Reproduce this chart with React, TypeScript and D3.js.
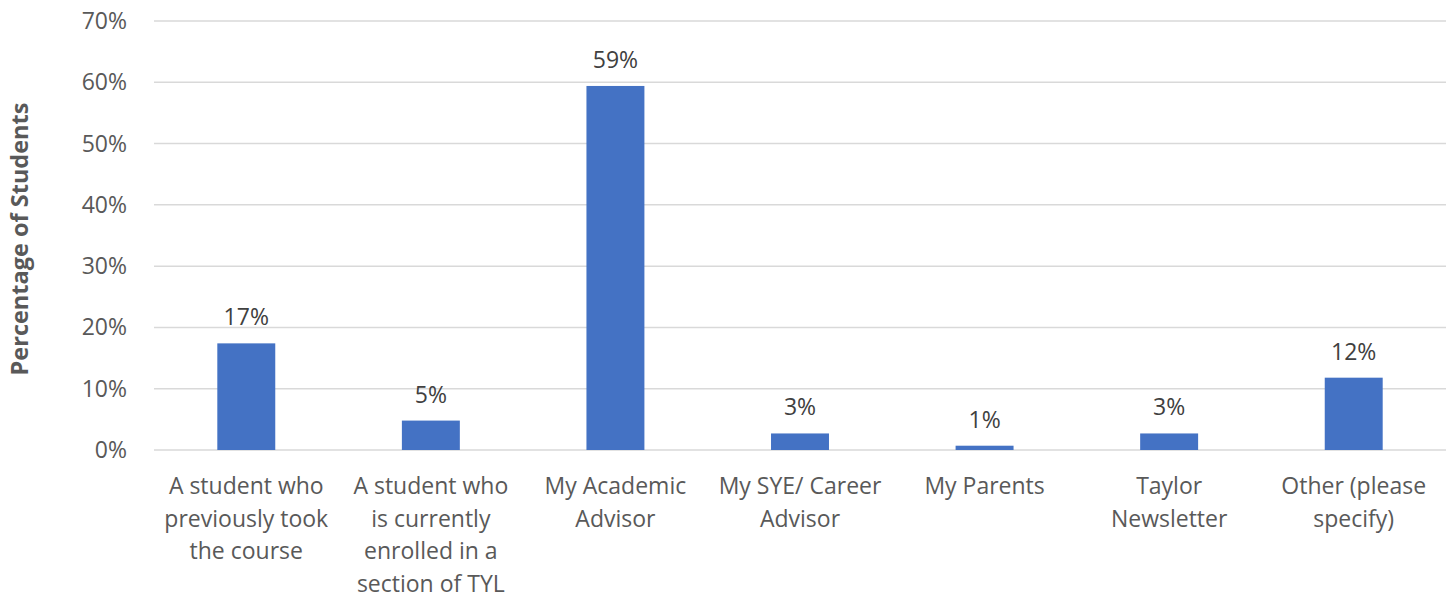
import React, { useEffect, useRef } from "react";
import * as d3 from "d3";

const categories = [
  "A student who\npreviously took\nthe course",
  "A student who\nis currently\nenrolled in a\nsection of TYL",
  "My Academic\nAdvisor",
  "My SYE/ Career\nAdvisor",
  "My Parents",
  "Taylor\nNewsletter",
  "Other (please\nspecify)",
];
const values = [17.4, 4.8, 59.4, 2.7, 0.7, 2.7, 11.8];
const valueLabels = ["17%", "5%", "59%", "3%", "1%", "3%", "12%"];
const yTicks = [0, 10, 20, 30, 40, 50, 60, 70];
const yTitle = "Percentage of Students";

const W = 1455;
const H = 601;
const FONT = "'Open Sans', sans-serif";
const FS = 23;

export default function App() {
  const ref = useRef<SVGSVGElement>(null);
  useEffect(() => {
    const svg = d3.select(ref.current);
    svg.selectAll("*").remove();
    const left = 154, right = 1446, top = 21, bottom = 450;
    const x = d3.scaleBand<string>().domain(categories).range([left, right]).paddingInner(0.686).paddingOuter(0.343);
    const y = d3.scaleLinear().domain([0, 70]).range([bottom, top]);

    const g = svg.append("g");
    g.selectAll("line.grid").data(yTicks).join("line")
      .attr("x1", left).attr("x2", right)
      .attr("y1", d => y(d)).attr("y2", d => y(d))
      .attr("stroke", "#d9d9d9").attr("stroke-width", 1.5);

    g.selectAll("text.tick").data(yTicks).join("text")
      .attr("x", 127).attr("y", d => y(d)).attr("dy", "0.35em")
      .attr("text-anchor", "end").attr("font-family", FONT).attr("font-size", FS)
      .attr("fill", "#595959").text(d => d + "%");

    g.selectAll("rect.bar").data(values).join("rect")
      .attr("x", (_, i) => x(categories[i])!)
      .attr("width", x.bandwidth())
      .attr("y", d => y(d)).attr("height", d => bottom - y(d))
      .attr("fill", "#4472c4");

    g.selectAll("text.val").data(values).join("text")
      .attr("x", (_, i) => x(categories[i])! + x.bandwidth() / 2)
      .attr("y", d => y(d) - 18)
      .attr("text-anchor", "middle").attr("font-family", FONT).attr("font-size", FS)
      .attr("fill", "#404040").text((_, i) => valueLabels[i]);

    categories.forEach(c => {
      const lines = c.split("\n");
      const t = g.append("text").attr("text-anchor", "middle").attr("font-family", FONT)
        .attr("font-size", FS).attr("fill", "#595959");
      lines.forEach((l, i) => {
        t.append("tspan").attr("x", x(c)! + x.bandwidth() / 2).attr("y", 486 + i * 32.5).attr("dy", "0.35em").text(l);
      });
    });

    g.append("text")
      .attr("transform", `translate(20,239) rotate(-90)`)
      .attr("text-anchor", "middle").attr("dy", "0.35em")
      .attr("font-family", FONT).attr("font-size", 23.5).attr("font-weight", "bold")
      .attr("fill", "#595959").text(yTitle);
  }, []);
  return (
    <svg ref={ref} width={W} height={H} style={{ position: "absolute", left: 0, top: 0, background: "#fff" }} />
  );
}
